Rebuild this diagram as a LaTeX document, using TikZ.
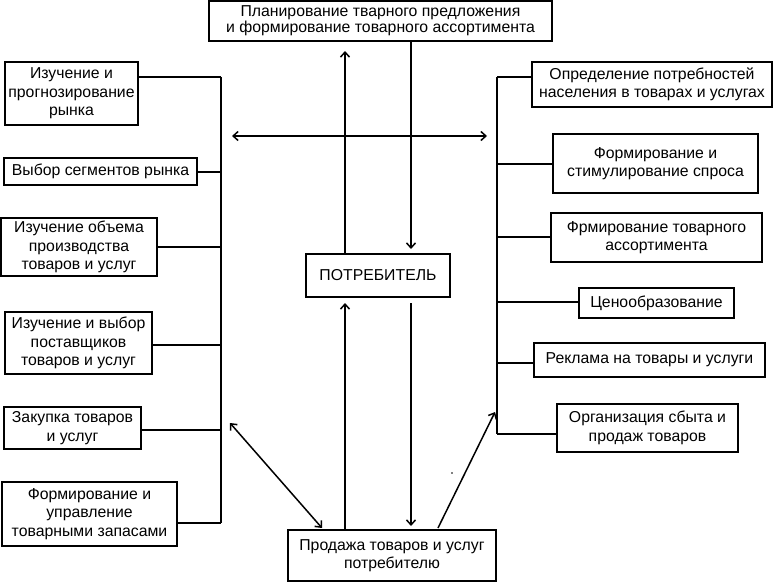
\documentclass[tikz,border=0pt]{standalone}
\usepackage{fontspec}
\setmainfont{Liberation Sans}
\usetikzlibrary{arrows.meta}
\begin{document}
\begin{tikzpicture}[x=1pt,y=-1pt,
  box/.style={draw, line width=2pt, inner sep=0pt, align=center,
    font=\fontsize{15.8}{18.5}\selectfont},
  conn/.style={line width=1.5pt},
  arr/.style={line width=1.5pt, -{Straight Barb[length=5pt,width=9pt,line width=1.5pt]}},
  arrb/.style={line width=1.5pt, {Straight Barb[length=5pt,width=9pt,line width=1.5pt]}-{Straight Barb[length=5pt,width=9pt,line width=1.5pt]}}]
\useasboundingbox (0,0) rectangle (774,583);
% central boxes
\node[box, minimum width=343pt, minimum height=40pt, font=\fontsize{15.8}{16}\selectfont] (T) at (380.5,21)
  {Планирование тварного предложения\\и формирование товарного ассортимента};
\node[box, minimum width=144pt, minimum height=43pt] (P) at (378,275.5) {ПОТРЕБИТЕЛЬ};
\node[box, minimum width=208pt, minimum height=51pt] (B) at (392,555.5) {Продажа товаров и услуг\\потребителю};
% left boxes
\node[box, minimum width=133pt, minimum height=63pt] (L1) at (71.5,93.5) {Изучение и\\прогнозирование\\рынка};
\node[box, minimum width=193pt, minimum height=27pt] (L2) at (100.5,171.5) {Выбор сегментов рынка};
\node[box, minimum width=156pt, minimum height=58pt] (L3) at (79,247) {Изучение объема\\производства\\товаров и услуг};
\node[box, minimum width=147pt, minimum height=62pt] (L4) at (78.5,343) {Изучение и выбор\\поставщиков\\товаров и услуг};
\node[box, minimum width=137pt, minimum height=42pt] (L5) at (72.5,428) {Закупка товаров\\и услуг};
\node[box, minimum width=175pt, minimum height=64pt] (L6) at (89.5,514) {Формирование и\\управление\\товарными запасами};
% right boxes
\node[box, minimum width=240pt, minimum height=45pt] (R1) at (652,84.5) {Определение потребностей\\населения в товарах и услугах};
\node[box, minimum width=205pt, minimum height=59pt] (R2) at (655.5,163.5) {Формирование и\\стимулирование спроса};
\node[box, minimum width=211pt, minimum height=49pt] (R3) at (656.5,237.5) {Фрмирование товарного\\ассортимента};
\node[box, minimum width=155pt, minimum height=30pt] (R4) at (656.5,303) {Ценообразование};
\node[box, minimum width=231pt, minimum height=34pt] (R5) at (649.5,360) {Реклама на товары и услуги};
\node[box, minimum width=181pt, minimum height=48pt] (R6) at (647.5,428) {Организация сбыта и\\продаж товаров};
% left bus
\coordinate (bL1) at (221,77);
\coordinate (bL2) at (221,172);
\coordinate (bL3) at (221,247);
\coordinate (bL4) at (221,345);
\coordinate (bL5) at (221,430);
\coordinate (bL6) at (221,523);
\draw[conn] (bL1) -- (bL6);
\draw[conn] (L1.east |- bL1) -- (bL1);
\draw[conn] (L2.east |- bL2) -- (bL2);
\draw[conn] (L3.east |- bL3) -- (bL3);
\draw[conn] (L4.east |- bL4) -- (bL4);
\draw[conn] (L5.east |- bL5) -- (bL5);
\draw[conn] (L6.east |- bL6) -- (bL6);
% right bus
\coordinate (bR1) at (497,77);
\coordinate (bR2) at (497,164);
\coordinate (bR3) at (497,237);
\coordinate (bR4) at (497,302);
\coordinate (bR5) at (497,363);
\coordinate (bR6) at (497,434);
\draw[conn] (bR1) -- (bR6);
\draw[conn] (bR1) -- (R1.west |- bR1);
\draw[conn] (bR2) -- (R2.west |- bR2);
\draw[conn] (bR3) -- (R3.west |- bR3);
\draw[conn] (bR4) -- (R4.west |- bR4);
\draw[conn] (bR5) -- (R5.west |- bR5);
\draw[conn] (bR6) -- (R6.west |- bR6);
% central cross
\coordinate (c1) at (345,0);
\coordinate (c2) at (411,0);
\coordinate (hL) at (232,136);
\coordinate (hR) at (487,136);
\draw[arrb] (hL) -- (hR);
\draw[arr, shorten >=9pt] (P.north -| c1) -- (T.south -| c1);
\draw[arr, shorten >=4pt] (T.south -| c2) -- (P.north -| c2);
\draw[arr, shorten >=5pt] (B.north -| c1) -- (P.south -| c1);
\draw[arr, shorten <=5pt, shorten >=3pt] (P.south -| c2) -- (B.north -| c2);
% diagonals
\coordinate (d1) at (230,423);
\coordinate (d2) at (322,528);
\draw[arrb] (d1) -- (d2);
\coordinate (e1) at (438,528);
\coordinate (e2) at (495,412);
\draw[arr] (e1) -- (e2);
\fill (452,473) circle (0.9pt);
\end{tikzpicture}
\end{document}
